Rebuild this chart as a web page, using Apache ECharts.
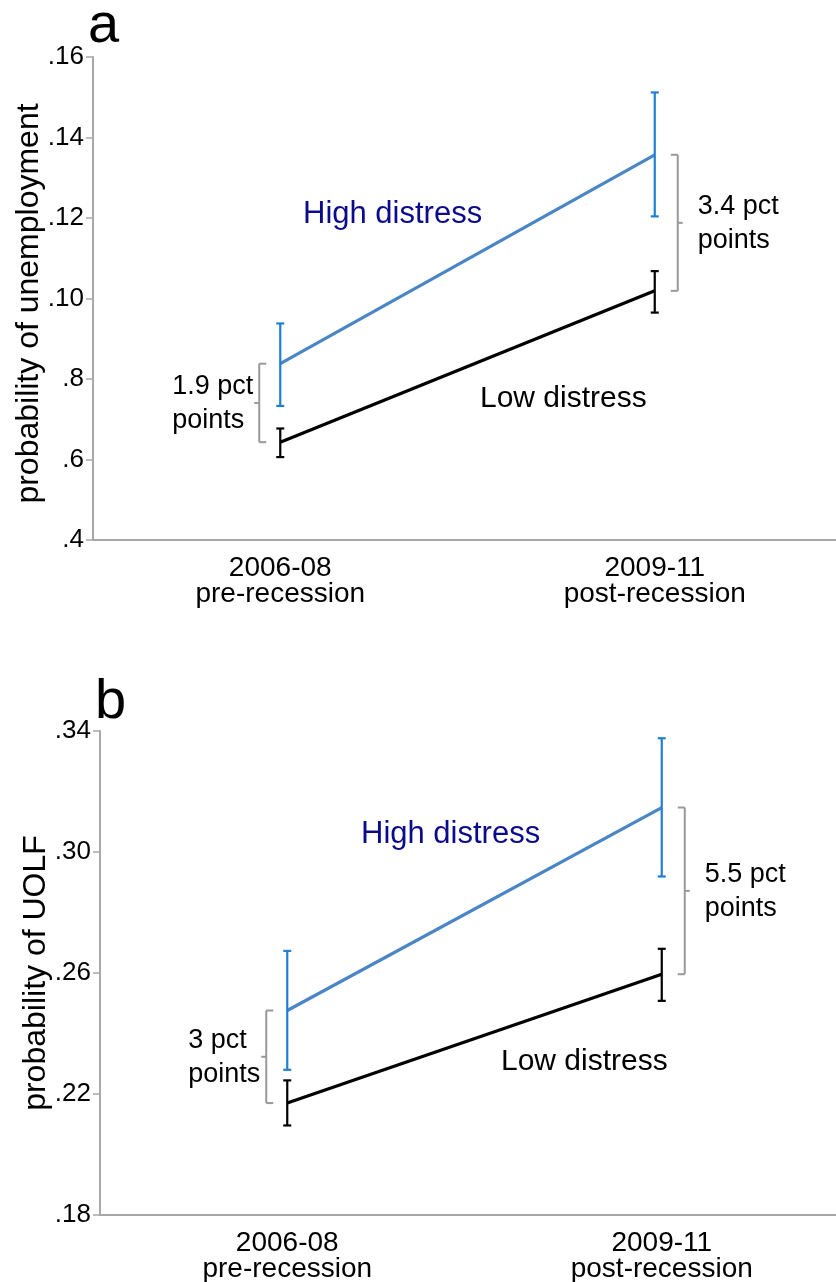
<!DOCTYPE html>
<html>
<head>
<meta charset="utf-8">
<script src="https://cdn.jsdelivr.net/npm/echarts@6/dist/echarts.min.js"></script>
<style>
  html, body { margin: 0; padding: 0; background: #fff; }
  #chart { width: 836px; height: 1282px; }
</style>
</head>
<body>
<div id="chart"></div>
<script>
// categories
const categories = ['2006-08\npre-recession', '2009-11\npost-recession'];

// panel a: probability of unemployment
const highA = [0.0838, 0.1357];
const highALo = [0.0733, 0.1204];
const highAHi = [0.0938, 0.1512];
const lowA = [0.0643, 0.1019];
const lowALo = [0.0606, 0.0965];
const lowAHi = [0.0677, 0.1068];
const gapLabelsA = ['1.9 pct\npoints', '3.4 pct\npoints'];
const yTicksA = [0.04, 0.06, 0.08, 0.10, 0.12, 0.14, 0.16];
const yTickLabelsA = ['.4', '.6', '.8', '.10', '.12', '.14', '.16'];

// panel b: probability of UOLF
const highB = [0.2476, 0.3147];
const highBLo = [0.2280, 0.2919];
const highBHi = [0.2673, 0.3376];
const lowB = [0.2170, 0.2596];
const lowBLo = [0.2096, 0.2508];
const lowBHi = [0.2245, 0.2680];
const gapLabelsB = ['3 pct\npoints', '5.5 pct\npoints'];
const yTicksB = [0.18, 0.22, 0.26, 0.30, 0.34];
const yTickLabelsB = ['.18', '.22', '.26', '.30', '.34'];

const FONT = '"Liberation Sans", Arial, sans-serif';
const AXIS_GRAY = '#a8a8a8';
const BLUE_LINE = '#4a86c6';
const BLUE_BAR = '#1f80d2';
const NAVY = '#0b0b8c';

const myChart = echarts.init(document.getElementById('chart'));

// 测量文本宽度，用于左对齐的括号说明
const measureCtx = document.createElement('canvas').getContext('2d');
function blockWidth(text, size) {
  measureCtx.font = size + 'px ' + FONT;
  return Math.max(...text.split('\n').map(t => measureCtx.measureText(t).width));
}

function pickLabel(ticks, labels) {
  return function (v) {
    const i = ticks.findIndex(t => Math.abs(t - v) < 1e-6);
    return i >= 0 ? labels[i] : '';
  };
}

// 误差线
function errorBar(color) {
  return function (params, api) {
    const i = api.value(0);
    const lo = api.coord([i, api.value(1)]);
    const hi = api.coord([i, api.value(2)]);
    const cap = 4;
    const st = { stroke: color, lineWidth: 2.2 };
    return {
      type: 'group',
      children: [
        { type: 'line', shape: { x1: lo[0], y1: lo[1], x2: hi[0], y2: hi[1] }, style: st },
        { type: 'line', shape: { x1: hi[0] - cap, y1: hi[1], x2: hi[0] + cap, y2: hi[1] }, style: st },
        { type: 'line', shape: { x1: lo[0] - cap, y1: lo[1], x2: lo[0] + cap, y2: lo[1] }, style: st }
      ]
    };
  };
}

// 差值括号 + 说明文字
function makeBracket(labels) {
  return function (params, api) {
    const i = api.value(0);
    const lo = api.coord([i, api.value(1)]);
    const hi = api.coord([i, api.value(2)]);
    const text = labels[params.dataIndex];
    const side = i === 0 ? -1 : 1;
    const lx = lo[0] + side * (i === 0 ? 21 : 23);
    const ex = lx - side * 7;
    const mid = (lo[1] + hi[1]) / 2;
    const st = { stroke: '#999', lineWidth: 2 };
    const size = 27;
    const tx = side < 0 ? lx - 6 - blockWidth(text, size) : lx + 20;
    return {
      type: 'group',
      children: [
        { type: 'line', shape: { x1: lx, y1: lo[1], x2: lx, y2: hi[1] }, style: st },
        { type: 'line', shape: { x1: lx, y1: lo[1], x2: ex, y2: lo[1] }, style: st },
        { type: 'line', shape: { x1: lx, y1: hi[1], x2: ex, y2: hi[1] }, style: st },
        { type: 'line', shape: { x1: lx, y1: mid, x2: lx + side * 5, y2: mid }, style: st },
        {
          type: 'text', x: tx, y: mid + 1,
          style: { text: text, fill: '#000', fontSize: size, fontFamily: FONT,
            align: 'left', verticalAlign: 'middle', lineHeight: 34 }
        }
      ]
    };
  };
}

function xAxisCfg(gridIndex) {
  return {
    type: 'category',
    gridIndex: gridIndex,
    data: categories,
    boundaryGap: true,
    axisLine: { lineStyle: { color: AXIS_GRAY, width: 2 } },
    axisTick: { show: false },
    axisLabel: { color: '#000', fontSize: 28, lineHeight: 26, fontFamily: FONT, margin: 15 },
    splitLine: { show: false }
  };
}

function yAxisCfg(gridIndex, name, ticks, labels, interval, namePad) {
  const cfg = {
    type: 'value',
    gridIndex: gridIndex,
    name: name,
    nameLocation: 'middle',
    nameRotate: 90,
    nameGap: 48,
    nameMoveOverlap: false,
    nameTextStyle: { color: '#000', fontSize: 32, fontFamily: FONT, padding: namePad },
    min: ticks[0],
    max: ticks[ticks.length - 1],
    axisLine: { show: true, lineStyle: { color: AXIS_GRAY, width: 2 } },
    axisTick: { show: true, length: 7, lineStyle: { color: AXIS_GRAY, width: 1.5 } },
    axisLabel: { color: '#000', fontSize: 26, fontFamily: FONT, margin: 9,
      formatter: pickLabel(ticks, labels) },
    splitLine: { show: false }
  };
  if (interval) {
    cfg.interval = interval;
  } else {
    cfg.axisLabel.customValues = ticks;
    cfg.axisTick.customValues = ticks;
  }
  return cfg;
}

function lineSeries(data, color, xi) {
  return {
    type: 'line', xAxisIndex: xi, yAxisIndex: xi, data: data,
    symbol: 'none', lineStyle: { color: color, width: 3.2 }, z: 2, silent: true
  };
}

function barSeries(lo, hi, color, xi) {
  return {
    type: 'custom', xAxisIndex: xi, yAxisIndex: xi, z: 3, silent: true,
    renderItem: errorBar(color),
    data: lo.map((v, i) => [i, v, hi[i]])
  };
}

function bracketSeries(low, high, labels, xi) {
  return {
    type: 'custom', xAxisIndex: xi, yAxisIndex: xi, z: 3, silent: true,
    renderItem: makeBracket(labels),
    data: low.map((v, i) => [i, v, high[i]])
  };
}

function textEl(text, left, cy, size, color) {
  return {
    type: 'text', left: left, top: cy - size / 2,
    style: { text: text, fill: color, fontSize: size, fontFamily: FONT }
  };
}

const option = {
  animation: false,
  backgroundColor: '#fff',
  grid: [
    { left: 93, top: 57, width: 749, height: 483, outerBoundsMode: 'none' },
    { left: 100, top: 731, width: 749, height: 484, outerBoundsMode: 'none' }
  ],
  xAxis: [xAxisCfg(0), xAxisCfg(1)],
  yAxis: [
    yAxisCfg(0, 'probability of unemployment', yTicksA, yTickLabelsA, 0.02, [0, 10, 0, 0]),
    yAxisCfg(1, 'probability of UOLF', yTicksB, yTickLabelsB, null, 0)
  ],
  graphic: [
    textEl('a', 88, 27, 56, '#000'),
    textEl('b', 95, 703, 56, '#000'),
    textEl('High distress', 303, 214, 31, NAVY),
    textEl('Low distress', 480, 399, 30, '#000'),
    textEl('High distress', 361, 834, 31, NAVY),
    textEl('Low distress', 501, 1062, 30, '#000')
  ],
  series: [
    lineSeries(highA, BLUE_LINE, 0),
    lineSeries(lowA, '#000', 0),
    barSeries(highALo, highAHi, BLUE_BAR, 0),
    barSeries(lowALo, lowAHi, '#000', 0),
    bracketSeries(lowA, highA, gapLabelsA, 0),
    lineSeries(highB, BLUE_LINE, 1),
    lineSeries(lowB, '#000', 1),
    barSeries(highBLo, highBHi, BLUE_BAR, 1),
    barSeries(lowBLo, lowBHi, '#000', 1),
    bracketSeries(lowB, highB, gapLabelsB, 1)
  ]
};

myChart.setOption(option);

window.addEventListener('resize', () => {
  myChart.resize();
});
</script>
</body>
</html>
